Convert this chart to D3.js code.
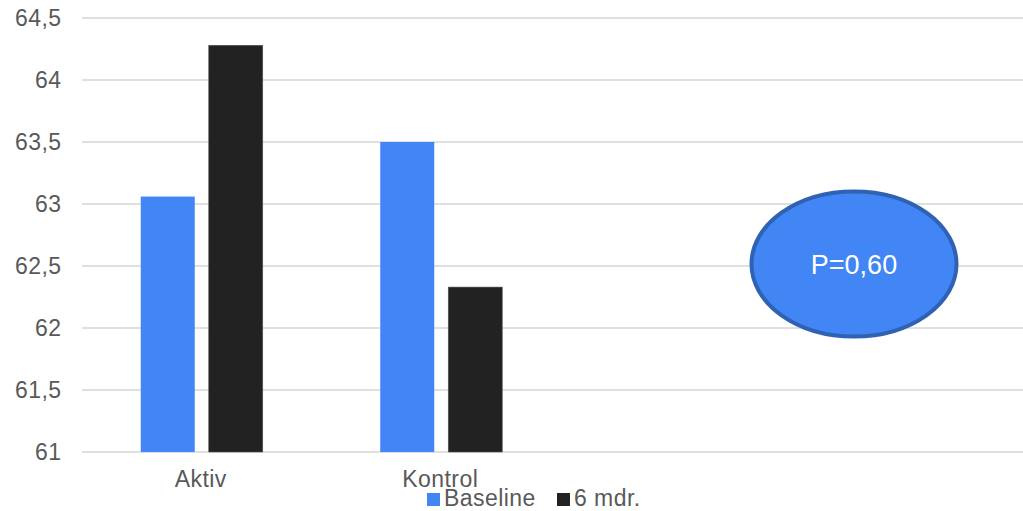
<!DOCTYPE html>
<html>
<head>
<meta charset="utf-8">
<script src="https://cdn.jsdelivr.net/npm/d3@7"></script>
<style>
	body { margin: 0; background: #fff; }
	svg { display: block; font-family: "Liberation Sans", Arial, sans-serif; }
</style>
</head>
<body>
<svg id="chart" width="1023" height="511"></svg>
<script>
// chart data
var categories = ["Aktiv", "Kontrol", "", " "];
var seriesNames = ["Baseline", "6 mdr."];
var baseline = [63.06, 63.5, null, null];
var sixMonths = [64.28, 62.33, null, null];
var yTicks = [61, 61.5, 62, 62.5, 63, 63.5, 64, 64.5];
var pLabel = "P=0,60";

var colors = ["#4285f4", "#222222"];
var txtCol = "#595959";
var fs = 23, ls = 0.45;

var svg = d3.select("#chart");

var y = d3.scaleLinear().domain([61, 64.5]).range([452, 18]);
var x0 = d3.scaleBand().domain(categories).range([82, 1040]).padding(0);
var groupW = 122;
var x1 = d3.scaleBand().domain(seriesNames)
	.range([(x0.bandwidth() - groupW) / 2, (x0.bandwidth() + groupW) / 2])
	.paddingInner(0.206).paddingOuter(0);

//gridlines
svg.append("g").selectAll("line").data(yTicks).enter().append("line")
	.attr("x1", 82).attr("x2", 1023)
	.attr("y1", function(d){ return y(d); }).attr("y2", function(d){ return y(d); })
	.attr("stroke", "#d6d6d6").attr("stroke-width", 1.7);

//y tick labels
var fmt = function(d){ return String(d).replace(".", ","); };
svg.append("g").selectAll("text").data(yTicks).enter().append("text")
	.attr("x", 61.5).attr("y", function(d){ return y(d) + 8; })
	.attr("text-anchor", "end")
	.attr("font-size", fs).attr("letter-spacing", ls)
	.attr("fill", txtCol)
	.text(fmt);

//bars
var rows = categories.map(function(c, i){
	return {cat: c, vals: [baseline[i], sixMonths[i]]};
});
var groups = svg.append("g").selectAll("g").data(rows).enter().append("g")
	.attr("transform", function(d){ return "translate(" + x0(d.cat) + ",0)"; });
groups.selectAll("rect")
	.data(function(d){
		return d.vals.map(function(v, j){ return {name: seriesNames[j], v: v, j: j}; })
			.filter(function(e){ return e.v != null; });
	})
	.enter().append("rect")
	.attr("x", function(d){ return x1(d.name); })
	.attr("width", x1.bandwidth())
	.attr("y", function(d){ return y(d.v); })
	.attr("height", function(d){ return y(61) - y(d.v); })
	.attr("fill", function(d){ return colors[d.j]; })
	.attr("stroke", function(d){ return d.j == 1 ? "#555" : "none"; })
	.attr("stroke-width", 0.6);

//category labels
svg.append("g").selectAll("text").data(categories).enter().append("text")
	.attr("x", function(d){ return x0(d) + x0.bandwidth() / 2 - 1; })
	.attr("y", 487)
	.attr("text-anchor", "middle")
	.attr("font-size", fs).attr("letter-spacing", ls)
	.attr("fill", txtCol)
	.text(function(d){ return d.trim(); });

//legend
var legX = [427, 557];
var leg = svg.append("g").selectAll("g").data(seriesNames).enter().append("g")
	.attr("transform", function(d, i){ return "translate(" + legX[i] + ",493)"; });
leg.append("rect").attr("width", 13).attr("height", 13)
	.attr("fill", function(d, i){ return colors[i]; });
leg.append("text").attr("x", 17).attr("y", 13)
	.attr("font-size", fs).attr("letter-spacing", ls)
	.attr("fill", txtCol)
	.text(function(d){ return d; });

//p-value bubble
svg.append("ellipse")
	.attr("cx", 854).attr("cy", 264).attr("rx", 102.5).attr("ry", 72.5)
	.attr("fill", "#4285f4").attr("stroke", "#2f62b3").attr("stroke-width", 4);
svg.append("text")
	.attr("x", 854).attr("y", 273.5)
	.attr("text-anchor", "middle")
	.attr("font-size", 27).attr("fill", "#fff")
	.text(pLabel);
</script>
</body>
</html>
